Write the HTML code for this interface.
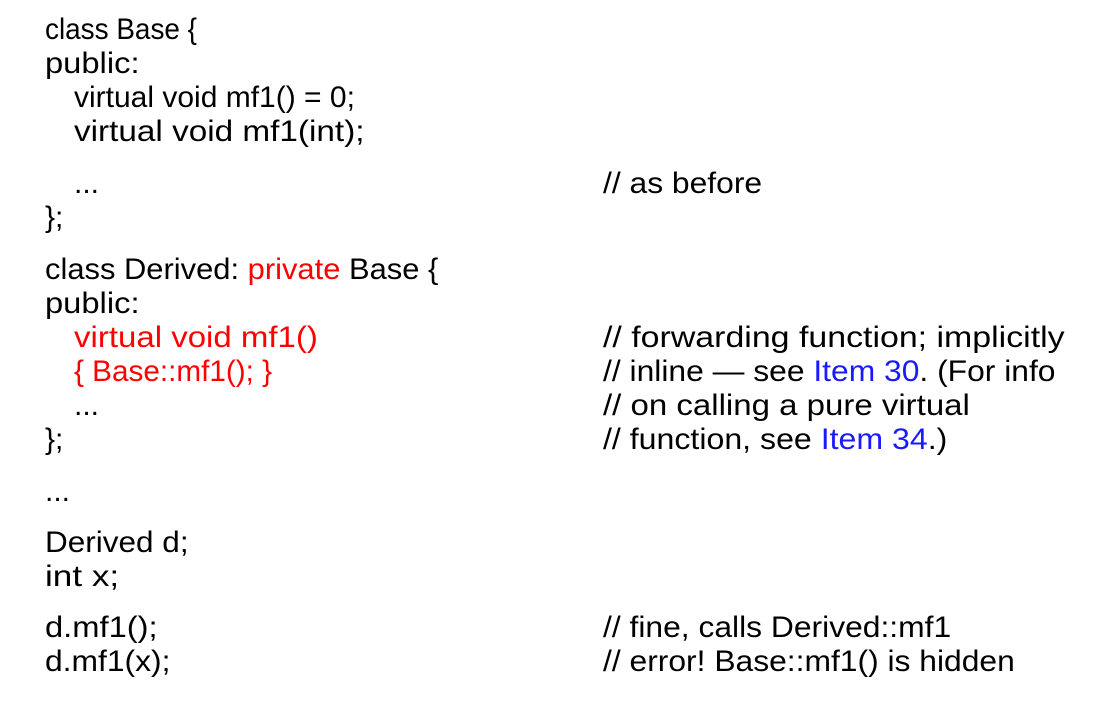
<!DOCTYPE html>
<html><head><style>
html,body{margin:0;padding:0;background:#fff;}
body{width:1098px;height:717px;position:relative;overflow:hidden;font-family:"Liberation Sans",sans-serif;font-size:30px;color:#000;}
.l{position:absolute;line-height:34px;white-space:pre;transform-origin:0 50%;}
.r{color:#f00;}
.b{color:#1a1aff;}
</style></head><body>
<div class="l" style="left:45px;top:13px;transform:scaleX(0.93)">class Base {</div>
<div class="l" style="left:45px;top:47px;transform:scaleX(1.09)">public:</div>
<div class="l" style="left:74px;top:81px;transform:scaleX(1.0)">virtual void mf1() = 0;</div>
<div class="l" style="left:74px;top:115px;transform:scaleX(1.11)">virtual void mf1(int);</div>
<div class="l" style="left:74px;top:167px">...</div>
<div class="l" style="left:603px;top:167px;transform:scaleX(1.06)">// as before</div>
<div class="l" style="left:45px;top:201px">};</div>
<div class="l" style="left:45px;top:253px;transform:scaleX(1.03)">class Derived: <span class="r">private</span> Base {</div>
<div class="l" style="left:45px;top:287px;transform:scaleX(1.09)">public:</div>
<div class="l r" style="left:74px;top:321px;transform:scaleX(1.10)">virtual void mf1()</div>
<div class="l r" style="left:74px;top:355px;transform:scaleX(0.99)">{ Base::mf1(); }</div>
<div class="l" style="left:74px;top:389px">...</div>
<div class="l" style="left:45px;top:423px">};</div>
<div class="l" style="left:603px;top:321px;transform:scaleX(1.13)">// forwarding function; implicitly</div>
<div class="l" style="left:603px;top:355px;transform:scaleX(1.06)">// inline — see <span class="b">Item 30</span>. (For info</div>
<div class="l" style="left:603px;top:389px;transform:scaleX(1.10)">// on calling a pure virtual</div>
<div class="l" style="left:603px;top:423px;transform:scaleX(1.07)">// function, see <span class="b">Item 34</span>.)</div>
<div class="l" style="left:45px;top:475px">...</div>
<div class="l" style="left:45px;top:526px;transform:scaleX(1.05)">Derived d;</div>
<div class="l" style="left:45px;top:560px;transform:scaleX(1.17)">int x;</div>
<div class="l" style="left:45px;top:611px;transform:scaleX(1.09)">d.mf1();</div>
<div class="l" style="left:45px;top:645px;transform:scaleX(1.06)">d.mf1(x);</div>
<div class="l" style="left:603px;top:611px;transform:scaleX(1.06)">// fine, calls Derived::mf1</div>
<div class="l" style="left:603px;top:645px;transform:scaleX(1.06)">// error! Base::mf1() is hidden</div>
</body></html>
